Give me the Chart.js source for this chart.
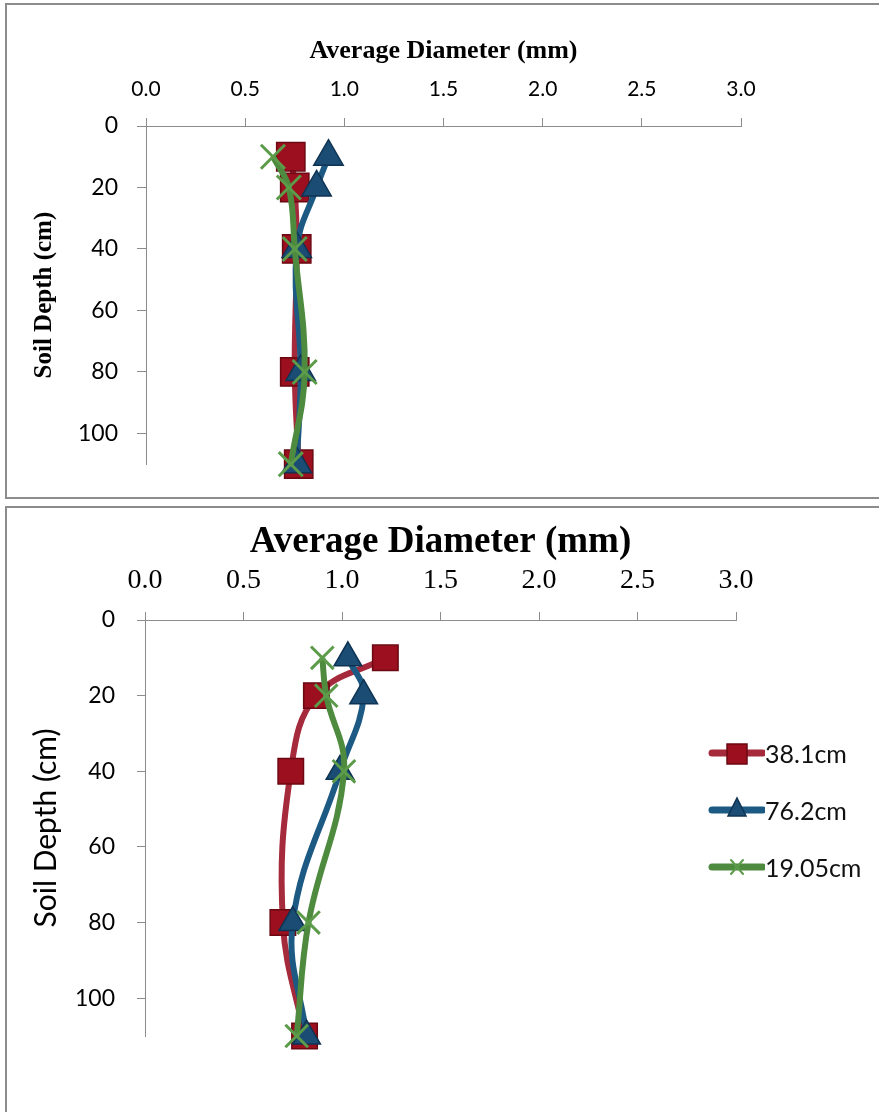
<!DOCTYPE html>
<html>
<head>
<meta charset="utf-8">
<script src="https://cdn.jsdelivr.net/npm/chart.js@4.4.1/dist/chart.umd.min.js"></script>
<style>
body{margin:0;background:#fff;width:879px;height:1112px;overflow:hidden;position:relative;}
.panel{position:absolute;left:5px;width:900px;border:2px solid #8c8c8c;background:#fff;}
#p1{top:3px;height:492px;}
#p2{top:506px;height:700px;}
.panel canvas{position:absolute;left:0;top:0;}
.leg{position:absolute;left:700px;height:30px;display:flex;align-items:center;font:25px Lato, sans-serif;color:#111;}
.leg canvas{position:static;margin-right:0;}
</style>
</head>
<body>
<div class="panel" id="p1"><canvas id="topChart" width="872" height="492"></canvas></div>
<div class="panel" id="p2">
  <canvas id="botChart" width="872" height="604"></canvas>
  <div class="leg" style="top:230px"><canvas id="leg0" width="58" height="30"></canvas><span>38.1cm</span></div>
  <div class="leg" style="top:287px"><canvas id="leg1" width="58" height="30"></canvas><span>76.2cm</span></div>
  <div class="leg" style="top:344px"><canvas id="leg2" width="58" height="30"></canvas><span>19.05cm</span></div>
</div>
<script>
// sample depths (cm) and axis ticks
const depths = [10, 20, 40, 80, 110];
const xTicks = [0, 0.5, 1, 1.5, 2, 2.5, 3];
const yTicks = [0, 20, 40, 60, 80, 100];
const seriesNames = ['38.1cm', '76.2cm', '19.05cm'];

// top graph, average diameter (mm)
const top_38 = [0.73, 0.75, 0.76, 0.75, 0.77];
const top_76 = [0.92, 0.86, 0.76, 0.78, 0.76];
const top_19 = [0.64, 0.72, 0.75, 0.80, 0.73];

// bottom graph, average diameter (mm)
const bot_38 = [1.22, 0.87, 0.74, 0.70, 0.81];
const bot_76 = [1.03, 1.11, 0.99, 0.75, 0.82];
const bot_19 = [0.90, 0.92, 1.01, 0.83, 0.77];

const styles = [
  {line: '#a52a3b', shape: 'rect', fill: '#9c0f1f', edge: '#6b0812', bw: 1.5},
  {line: '#1d5a83', shape: 'triangle', fill: '#1a4c74', edge: '#0f3352', bw: 1.5},
  {line: '#4e8b3f', shape: 'crossRot', fill: '#5c9b4a', edge: '#5c9b4a', bw: 3}
];
const axisGray = '#8c8c8c';

function makeChart(id, series, c) {
  const datasets = series.map(function(vals, i) {
    const st = styles[i];
    return {
      label: seriesNames[i],
      data: depths.map((d, j) => ({x: vals[j], y: d})),
      showLine: true,
      tension: 0.4,
      borderColor: st.line,
      borderWidth: c.lineW,
      pointStyle: st.shape,
      pointRadius: c.radius[i],
      pointBackgroundColor: st.fill,
      pointBorderColor: st.edge,
      pointBorderWidth: st.bw,
      order: 3 - i,
      clip: false
    };
  });

  return new Chart(document.getElementById(id), {
    type: 'scatter',
    data: {datasets: datasets},
    options: {
      responsive: false,
      animation: false,
      events: [],
      layout: {padding: {left: 0, top: 0, right: c.padR, bottom: c.padB}},
      plugins: {legend: {display: false}, tooltip: {enabled: false}},
      scales: {
        x: {
          type: 'linear', position: 'top', min: 0, max: 3,
          afterBuildTicks: s => { s.ticks = xTicks.map(v => ({value: v})); },
          afterFit: s => { s.height = c.xH; },
          grid: {drawOnChartArea: false, drawTicks: true, tickLength: 8, color: axisGray},
          border: {color: axisGray, width: 1},
          ticks: {color: '#000', font: c.xTickFont, padding: c.xTickPad, callback: v => v.toFixed(1)},
          title: {display: true, text: 'Average Diameter (mm)', color: '#000', font: c.xTitleFont, padding: {top: c.xTitlePad, bottom: 0}}
        },
        y: {
          type: 'linear', position: 'left', reverse: true, min: 0, max: 110,
          afterBuildTicks: s => { s.ticks = yTicks.map(v => ({value: v})); },
          afterFit: s => { s.width = c.yW; },
          grid: {drawOnChartArea: false, drawTicks: true, tickLength: c.yTickLen, color: axisGray},
          border: {color: axisGray, width: 1},
          ticks: {color: '#000', font: c.yTickFont, padding: c.yTickPad},
          title: {display: true, text: 'Soil Depth (cm)', color: '#000', font: c.yTitleFont, padding: {top: c.yTitlePad, bottom: 0}}
        }
      }
    }
  });
}

makeChart('topChart', [top_38, top_76, top_19], {
  padR: 138, padB: 32, xH: 121, yW: 139, lineW: 6,
  radius: [20, 17, 17],
  xTickFont: {family: 'Lato', size: 21}, xTickPad: 16,
  xTitleFont: {family: 'Liberation Serif', size: 26, weight: 'bold'}, xTitlePad: 31,
  yTickFont: {family: 'Lato', size: 23}, yTickPad: 19, yTickLen: 9,
  yTitleFont: {family: 'Liberation Serif', size: 25, weight: 'bold'}, yTitlePad: 23
});

makeChart('botChart', [bot_38, bot_76, bot_19], {
  padR: 143, padB: 76, xH: 112, yW: 138, lineW: 6,
  radius: [18, 16, 16],
  xTickFont: {family: 'Liberation Serif', size: 28}, xTickPad: 15,
  xTitleFont: {family: 'Liberation Serif', size: 37, weight: 'bold'}, xTitlePad: 12,
  yTickFont: {family: 'Lato', size: 23}, yTickPad: 22, yTickLen: 8,
  yTitleFont: {family: 'Lato', size: 30}, yTitlePad: 21
});

// legend icons: line with the marker in the middle
styles.forEach(function(st, i) {
  const ctx = document.getElementById('leg' + i).getContext('2d');
  ctx.lineCap = 'round';
  ctx.strokeStyle = st.line;
  ctx.lineWidth = 7;
  ctx.beginPath(); ctx.moveTo(5, 15); ctx.lineTo(56, 15); ctx.stroke();
  ctx.fillStyle = st.fill;
  ctx.strokeStyle = st.edge;
  ctx.lineWidth = st.bw;
  ctx.beginPath();
  if (st.shape === 'rect') {
    ctx.rect(20, 6, 20, 20); ctx.fill(); ctx.stroke();
  } else if (st.shape === 'triangle') {
    ctx.moveTo(30, 3); ctx.lineTo(39, 21); ctx.lineTo(21, 21); ctx.closePath(); ctx.fill(); ctx.stroke();
  } else {
    ctx.lineWidth = 2;
    ctx.moveTo(24, 8); ctx.lineTo(36, 22); ctx.moveTo(36, 8); ctx.lineTo(24, 22); ctx.stroke();
  }
});
</script>
</body>
</html>
